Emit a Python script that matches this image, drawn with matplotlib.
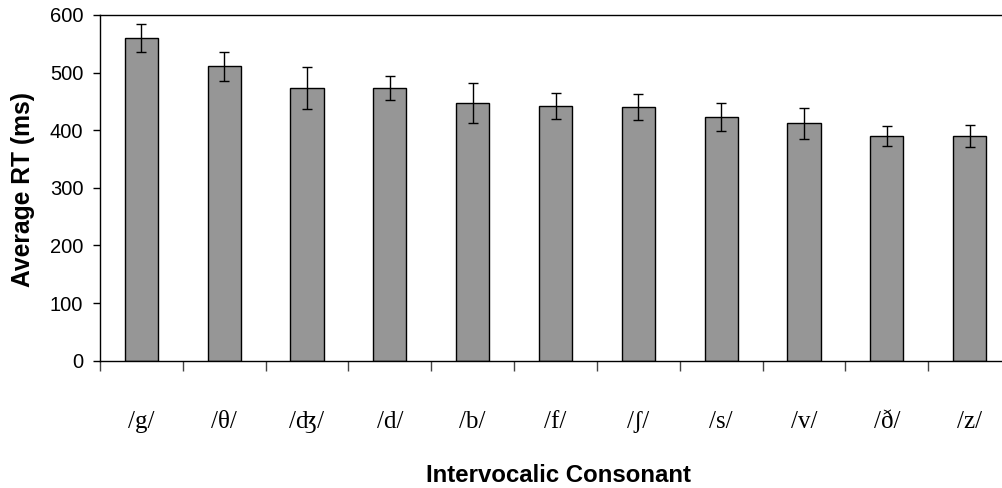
# average RT per intervocalic consonant, with error bars

import matplotlib.pyplot as plt
import numpy as np

consonants = ["/g/", "/\u03b8/", "/\u02a4/", "/d/", "/b/", "/f/",
              "/\u0283/", "/s/", "/v/", "/\u00f0/", "/z/"]
mean_rt = [560, 511, 473, 473, 447, 442, 440, 423, 412, 390, 390]
err_rt = [24, 25, 36, 21, 35, 23, 23, 24, 27, 18, 19]

yticks = [0, 100, 200, 300, 400, 500, 600]

fig = plt.figure(figsize=(10.02, 4.88), dpi=100)
ax = fig.add_axes([0.0998, 0.2609, 0.9092, 0.7084])

x = np.arange(len(consonants))
ax.bar(x, mean_rt, width=0.4, color="#969696", edgecolor="black",
       linewidth=1.0, yerr=err_rt, capsize=3.3,
       error_kw=dict(ecolor="black", elinewidth=1.0, capthick=1.0))

ax.set_xlim(-0.5, len(consonants) - 0.5)
ax.set_ylim(0, 600)
ax.set_yticks(yticks)
ax.set_yticklabels([str(v) for v in yticks], fontsize=14.5,
                   family="Liberation Sans")

# ticks sit between the categories, labels under each bar
ax.set_xticks(np.arange(len(consonants) + 1) - 0.5)
ax.set_xticklabels([])
ax.set_xticks(x, minor=True)
ax.set_xticklabels(consonants, minor=True, fontsize=18,
                   family="Liberation Serif")
ax.tick_params(axis="x", which="major", length=7, width=1.0, color="#444444")
ax.tick_params(axis="x", which="minor", length=0, pad=36)
ax.tick_params(axis="y", length=5, width=1.0, pad=7)

ax.spines["right"].set_visible(False)
for s in ["left", "bottom", "top"]:
    ax.spines[s].set_linewidth(1.0)
    ax.spines[s].set_color("black")

fig.text(0.023, 0.6127, "Average RT (ms)", fontsize=17.7, fontweight="bold",
         family="Liberation Sans", rotation=90, ha="center", va="center")
fig.text(0.557, 0.026, "Intervocalic Consonant", fontsize=17.3,
         fontweight="bold", family="Liberation Sans",
         ha="center", va="center")

fig.savefig("out.png", dpi=100)
